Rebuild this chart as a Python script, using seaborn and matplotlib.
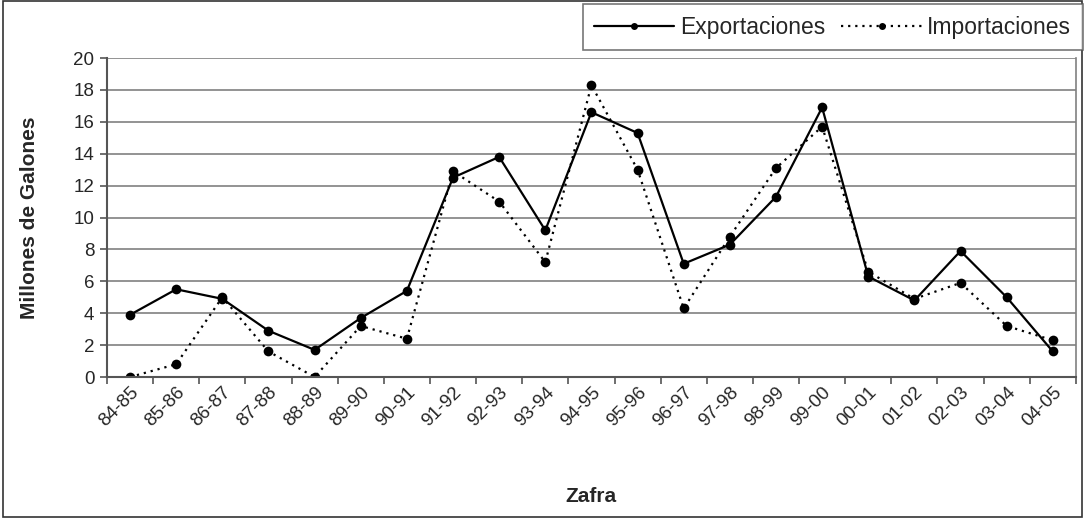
import numpy as np
import pandas as pd
import seaborn as sns
import matplotlib
matplotlib.use("Agg")
import matplotlib.pyplot as plt
from matplotlib.patches import Rectangle

# Zafras (categorias del eje x)
zafras = ["84-85", "85-86", "86-87", "87-88", "88-89", "89-90", "90-91",
          "91-92", "92-93", "93-94", "94-95", "95-96", "96-97", "97-98",
          "98-99", "99-00", "00-01", "01-02", "02-03", "03-04", "04-05"]

# Millones de galones
exportaciones = [3.9, 5.5, 4.9, 2.9, 1.7, 3.7, 5.4, 12.5, 13.8, 9.2, 16.6,
                 15.3, 7.1, 8.3, 11.3, 16.9, 6.3, 4.8, 7.9, 5.0, 1.6]
importaciones = [0.0, 0.8, 5.0, 1.6, 0.0, 3.2, 2.4, 12.9, 11.0, 7.2, 18.3,
                 13.0, 4.3, 8.8, 13.1, 15.7, 6.6, 4.9, 5.9, 3.2, 2.3]

df = pd.DataFrame({"Zafra": zafras * 2,
                   "valor": exportaciones + importaciones,
                   "serie": ["Exportaciones"] * len(zafras) + ["Importaciones"] * len(zafras)})

sns.set_style("white")
plt.rcParams['font.family'] = ['Liberation Sans', 'DejaVu Sans']

fig = plt.figure(figsize=(10.85, 5.18), dpi=100)
ax = fig.add_axes([0.0986, 0.2722, 0.893, 0.6158])

sns.lineplot(data=df, x="Zafra", y="valor", hue="serie", style="serie",
             palette=["black", "black"],
             dashes={"Exportaciones": "", "Importaciones": (1, 2.2)},
             markers={"Exportaciones": "o", "Importaciones": "o"},
             markersize=7, markeredgewidth=0, linewidth=1.6,
             sort=False, ax=ax, legend=True)

ax.set_xlim(-0.5, len(zafras) - 0.5)
ax.set_ylim(0, 20)
ax.set_yticks(np.arange(0, 21, 2))
ax.yaxis.grid(True, color="#808080", linewidth=1.2)
ax.set_axisbelow(True)

ax.set_xticks(range(len(zafras)))
ax.set_xticklabels(zafras, rotation=45, ha="right", va="top", rotation_mode="anchor")
ax.set_xticks(np.arange(-0.5, len(zafras), 1), minor=True)
ax.tick_params(axis="x", which="major", length=0, pad=5, labelsize=13.5)
ax.tick_params(axis="x", which="minor", length=5, width=1.2, color="#555555", direction="out", bottom=True)
ax.tick_params(axis="y", length=5, width=1.2, color="#555555", direction="out", left=True, labelsize=13.5, pad=4)

for side in ["left", "bottom"]:
    ax.spines[side].set_color("#555555")
    ax.spines[side].set_linewidth(1.5)
ax.spines["right"].set_color("#808080")
ax.spines["right"].set_linewidth(1.2)
ax.spines["top"].set_visible(False)

ax.set_xlabel("Zafra", fontsize=15, fontweight="bold", labelpad=41)
ax.set_ylabel("Millones de Galones", fontsize=15, fontweight="bold", labelpad=25)

handles, labels = ax.get_legend_handles_labels()
leg = fig.legend(handles, labels, loc="upper right", bbox_to_anchor=(0.998, 0.992),
                 borderaxespad=0, ncol=2, frameon=True, fancybox=False, fontsize=16.5,
                 handlelength=3.5, handletextpad=0.25, columnspacing=0.7,
                 borderpad=0.5, edgecolor="#555555")
leg.get_frame().set_linewidth(1.2)
for h in leg.legend_handles:
    h.set_markersize(5)
ax.get_legend().remove()

fig.patches.append(Rectangle((0.003, 0.002), 0.994, 0.996, transform=fig.transFigure,
                             fill=False, edgecolor="#333333", linewidth=1.2))

fig.savefig("out.png", dpi=100)
